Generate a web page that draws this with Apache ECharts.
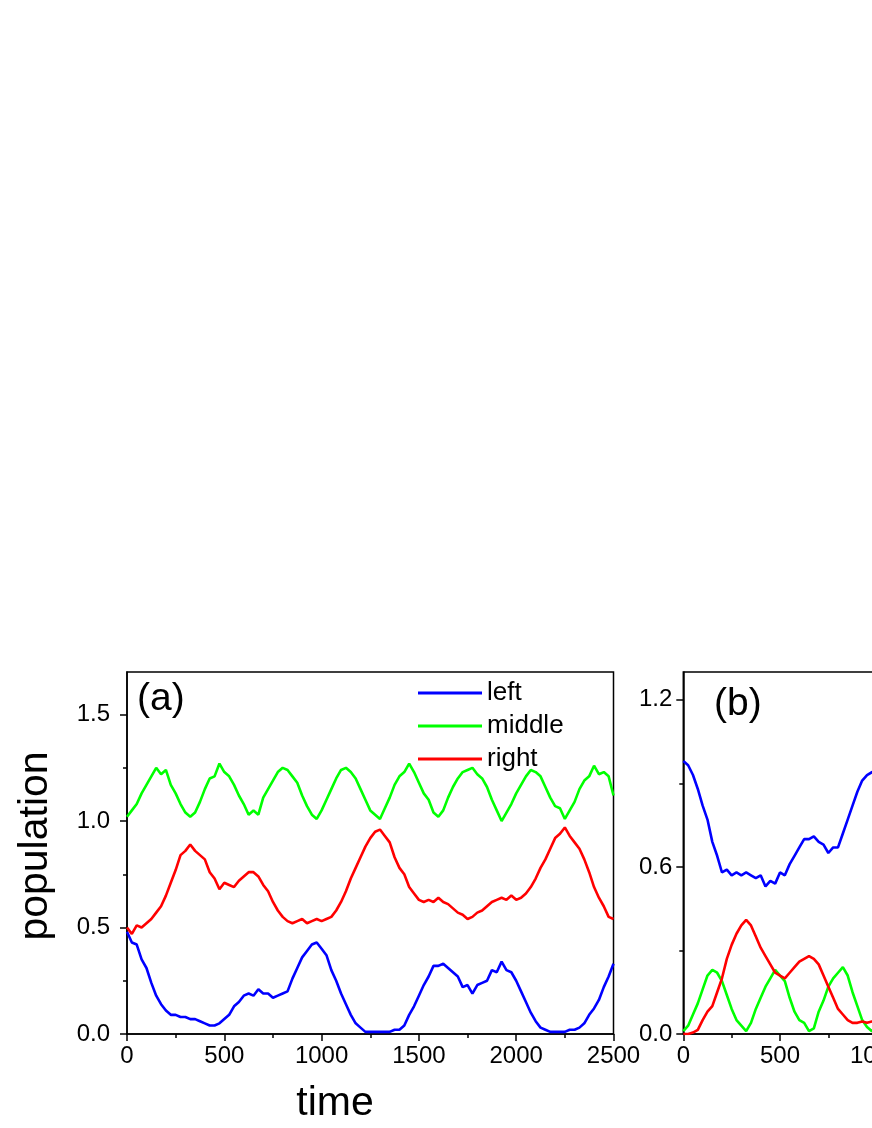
<!DOCTYPE html>
<html>
<head>
<meta charset="utf-8">
<script src="https://cdn.jsdelivr.net/npm/echarts@6/dist/echarts.min.js"></script>
<style>
  html, body { margin: 0; padding: 0; background: #fff; }
  #chart { width: 872px; height: 1128px; }
</style>
</head>
<body>
<div id="chart"></div>
<script>
// panel (a): time 0..2500
const timeA = [
  0, 25, 50, 75, 100, 125, 150, 175, 200, 225,
  250, 275, 300, 325, 350, 375, 400, 425, 450, 475,
  500, 525, 550, 575, 600, 625, 650, 675, 700, 725,
  750, 775, 800, 825, 850, 875, 900, 925, 950, 975,
  1000, 1025, 1050, 1075, 1100, 1125, 1150, 1175, 1200, 1225,
  1250, 1275, 1300, 1325, 1350, 1375, 1400, 1425, 1450, 1475,
  1500, 1525, 1550, 1575, 1600, 1625, 1650, 1675, 1700, 1725,
  1750, 1775, 1800, 1825, 1850, 1875, 1900, 1925, 1950, 1975,
  2000, 2025, 2050, 2075, 2100, 2125, 2150, 2175, 2200, 2225,
  2250, 2275, 2300, 2325, 2350, 2375, 2400, 2425, 2450, 2475,
  2500
];
const leftA = [
  0.48, 0.43, 0.42, 0.35, 0.31, 0.24, 0.18, 0.14, 0.11, 0.09,
  0.09, 0.08, 0.08, 0.07, 0.07, 0.06, 0.05, 0.04, 0.04, 0.05,
  0.07, 0.09, 0.13, 0.15, 0.18, 0.19, 0.18, 0.21, 0.19, 0.19,
  0.17, 0.18, 0.19, 0.20, 0.26, 0.31, 0.36, 0.39, 0.42, 0.43,
  0.40, 0.37, 0.30, 0.25, 0.19, 0.14, 0.09, 0.05, 0.03, 0.01,
  0.01, 0.01, 0.01, 0.01, 0.01, 0.02, 0.02, 0.04, 0.09, 0.13,
  0.18, 0.23, 0.27, 0.32, 0.32, 0.33, 0.31, 0.29, 0.27, 0.22,
  0.23, 0.19, 0.23, 0.24, 0.25, 0.30, 0.29, 0.34, 0.30, 0.29,
  0.25, 0.20, 0.15, 0.10, 0.06, 0.03, 0.02, 0.01, 0.01, 0.01,
  0.01, 0.02, 0.02, 0.03, 0.05, 0.09, 0.12, 0.16, 0.22, 0.27,
  0.33
];
const middleA = [
  1.02, 1.05, 1.08, 1.13, 1.17, 1.21, 1.25, 1.22, 1.24, 1.17,
  1.13, 1.08, 1.04, 1.02, 1.04, 1.09, 1.15, 1.20, 1.21, 1.27,
  1.23, 1.21, 1.17, 1.12, 1.08, 1.03, 1.05, 1.03, 1.11, 1.15,
  1.19, 1.23, 1.25, 1.24, 1.21, 1.18, 1.12, 1.07, 1.03, 1.01,
  1.05, 1.10, 1.15, 1.20, 1.24, 1.25, 1.23, 1.20, 1.15, 1.10,
  1.05, 1.03, 1.01, 1.06, 1.11, 1.17, 1.21, 1.23, 1.27, 1.23,
  1.18, 1.13, 1.10, 1.04, 1.02, 1.05, 1.11, 1.16, 1.20, 1.23,
  1.24, 1.25, 1.22, 1.20, 1.16, 1.10, 1.05, 1.00, 1.04, 1.08,
  1.13, 1.17, 1.21, 1.24, 1.23, 1.21, 1.16, 1.11, 1.07, 1.06,
  1.01, 1.05, 1.09, 1.15, 1.19, 1.21, 1.26, 1.22, 1.23, 1.21,
  1.12
];
const rightA = [
  0.50, 0.47, 0.51, 0.50, 0.52, 0.54, 0.57, 0.60, 0.65, 0.71,
  0.77, 0.84, 0.86, 0.89, 0.86, 0.84, 0.82, 0.76, 0.73, 0.68,
  0.71, 0.70, 0.69, 0.72, 0.74, 0.76, 0.76, 0.74, 0.70, 0.67,
  0.62, 0.58, 0.55, 0.53, 0.52, 0.53, 0.54, 0.52, 0.53, 0.54,
  0.53, 0.54, 0.55, 0.58, 0.62, 0.67, 0.73, 0.78, 0.83, 0.88,
  0.92, 0.95, 0.96, 0.93, 0.90, 0.83, 0.78, 0.75, 0.69, 0.66,
  0.63, 0.62, 0.63, 0.62, 0.64, 0.62, 0.61, 0.59, 0.57, 0.56,
  0.54, 0.55, 0.57, 0.58, 0.60, 0.62, 0.63, 0.64, 0.63, 0.65,
  0.63, 0.64, 0.66, 0.69, 0.73, 0.78, 0.82, 0.87, 0.92, 0.94,
  0.97, 0.93, 0.90, 0.87, 0.82, 0.76, 0.69, 0.64, 0.60, 0.55,
  0.54
];

// panel (b): only the first ~1000 time units are visible
const timeB = [
  0, 25, 50, 75, 100, 125, 150, 175, 200, 225,
  250, 275, 300, 325, 350, 375, 400, 425, 450, 475,
  500, 525, 550, 575, 600, 625, 650, 675, 700, 725,
  750, 775, 800, 825, 850, 875, 900, 925, 950, 975,
  1000
];
const leftB = [
  0.98, 0.965, 0.93, 0.88, 0.82, 0.77, 0.69, 0.64, 0.58, 0.59,
  0.57, 0.58, 0.57, 0.58, 0.57, 0.56, 0.57, 0.53, 0.55, 0.54,
  0.58, 0.57, 0.61, 0.64, 0.67, 0.70, 0.70, 0.71, 0.69, 0.68,
  0.65, 0.67, 0.67, 0.72, 0.77, 0.82, 0.87, 0.91, 0.93, 0.94,
  0.95
];
const middleB = [
  0.01, 0.03, 0.07, 0.11, 0.16, 0.21, 0.23, 0.22, 0.19, 0.14,
  0.09, 0.05, 0.03, 0.01, 0.04, 0.09, 0.13, 0.17, 0.20, 0.23,
  0.21, 0.19, 0.13, 0.08, 0.05, 0.04, 0.01, 0.02, 0.08, 0.12,
  0.17, 0.20, 0.22, 0.24, 0.21, 0.15, 0.10, 0.05, 0.025, 0.01,
  0.02
];
const rightB = [
  0.0, 0.0, 0.005, 0.015, 0.05, 0.08, 0.10, 0.15, 0.20, 0.27,
  0.32, 0.36, 0.39, 0.41, 0.39, 0.35, 0.31, 0.28, 0.25, 0.22,
  0.21, 0.20, 0.22, 0.24, 0.26, 0.27, 0.28, 0.27, 0.25, 0.21,
  0.17, 0.13, 0.09, 0.07, 0.05, 0.04, 0.04, 0.045, 0.04, 0.045,
  0.04
];

const majorA = [0, 0.5, 1.0, 1.5];
const minorA = [0.25, 0.75, 1.25];
const majorB = [0, 0.6, 1.2];
const minorB = [0.3, 0.9];

const FONT = '"Liberation Sans", Arial, sans-serif';
const COLORS = { left: '#0000ff', middle: '#00ff00', right: '#ff0000' };

const pairs = (ts, vs) => ts.map((t, i) => [t, vs[i]]);

const axisLine = { show: true, onZero: false, lineStyle: { color: '#000', width: 1.5 } };
const tickStyle = { color: '#000', width: 1.5 };

function xAxisFor(gridIndex) {
  return {
    gridIndex,
    type: 'value',
    min: 0,
    max: 2500,
    interval: 500,
    axisLine,
    axisTick: { show: true, inside: false, length: 7, lineStyle: tickStyle },
    minorTick: { show: true, splitNumber: 2, length: 4, lineStyle: tickStyle },
    axisLabel: { color: '#000', fontSize: 24, fontFamily: FONT, margin: 10, formatter: v => String(v) },
    splitLine: { show: false }
  };
}

function yAxesFor(gridIndex, max, major, minor, margin) {
  return [
    {
      gridIndex,
      type: 'value',
      position: 'left',
      min: 0,
      max,
      axisLine,
      axisTick: { show: true, length: 7, lineStyle: tickStyle, customValues: major },
      axisLabel: {
        color: '#000', fontSize: 24, fontFamily: FONT, margin,
        customValues: major,
        formatter: v => v.toFixed(1)
      },
      splitLine: { show: false }
    },
    {
      // only the short minor ticks
      gridIndex,
      type: 'value',
      position: 'left',
      offset: 0,
      min: 0,
      max,
      axisLine: { show: false },
      axisTick: { show: true, length: 4, lineStyle: tickStyle, customValues: minor },
      axisLabel: { show: false },
      splitLine: { show: false }
    }
  ];
}

function line(name, data, xAxisIndex, yAxisIndex) {
  return {
    name,
    type: 'line',
    xAxisIndex,
    yAxisIndex,
    data,
    symbol: 'none',
    color: COLORS[name],
    lineStyle: { color: COLORS[name], width: 2.6 },
    silent: true
  };
}

const gridBase = {
  top: 672, height: 362, show: true,
  borderColor: '#000', borderWidth: 1.5, backgroundColor: 'transparent',
  outerBoundsMode: 'none', containLabel: false
};

const chart = echarts.init(document.getElementById('chart'), null, { renderer: 'canvas' });

chart.setOption({
  animation: false,
  backgroundColor: '#fff',
  grid: [
    Object.assign({ left: 127, width: 486.5 }, gridBase),
    Object.assign({ left: 683.3, width: 483.5 }, gridBase)
  ],
  xAxis: [xAxisFor(0), xAxisFor(1)],
  yAxis: [
    ...yAxesFor(0, 1.7, majorA, minorA, 17),
    ...yAxesFor(1, 1.3, majorB, minorB, 11)
  ],
  legend: {
    orient: 'vertical',
    left: 418,
    top: 680,
    padding: 0,
    icon: 'rect',
    itemWidth: 64,
    itemHeight: 3,
    itemGap: 7,
    selectedMode: false,
    textStyle: { color: '#000', fontSize: 26, fontFamily: FONT },
    data: ['left', 'middle', 'right']
  },
  graphic: [
    { type: 'text', left: 137, top: 680, style: { text: '(a)', fontSize: 39, fontFamily: FONT, fill: '#000' } },
    { type: 'text', left: 714, top: 685, style: { text: '(b)', fontSize: 39, fontFamily: FONT, fill: '#000' } },
    { type: 'text', x: 335, y: 1104, style: { text: 'time', fontSize: 41, fontFamily: FONT, fill: '#000', align: 'center', verticalAlign: 'middle' } },
    { type: 'text', x: 36, y: 846, rotation: Math.PI / 2, style: { text: 'population', fontSize: 41, fontFamily: FONT, fill: '#000', align: 'center', verticalAlign: 'middle' } }
  ],
  series: [
    line('left', pairs(timeA, leftA), 0, 0),
    line('middle', pairs(timeA, middleA), 0, 0),
    line('right', pairs(timeA, rightA), 0, 0),
    line('left', pairs(timeB, leftB), 1, 2),
    line('middle', pairs(timeB, middleB), 1, 2),
    line('right', pairs(timeB, rightB), 1, 2)
  ]
});
</script>
</body>
</html>
